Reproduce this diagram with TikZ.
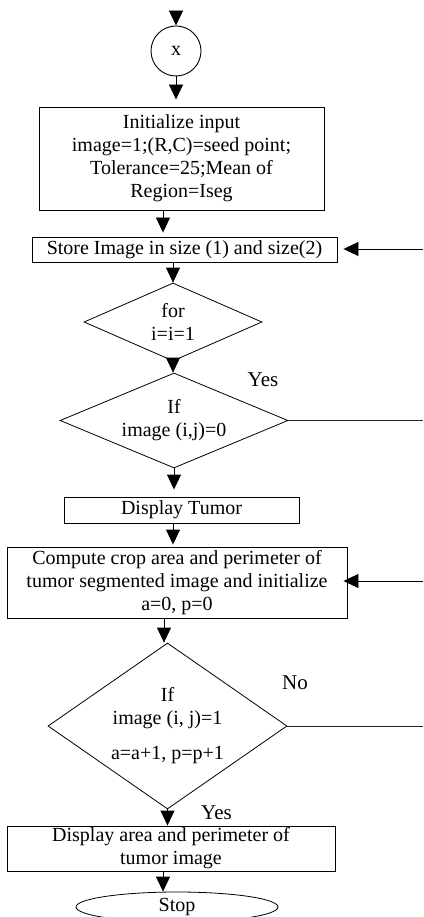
\documentclass[tikz,border=0pt]{standalone}
\usepackage{fontspec}
\setmainfont{Liberation Serif}
\usetikzlibrary{shapes.geometric,arrows.meta}
\begin{document}
\begin{tikzpicture}[x=1pt,y=-1pt,
  every node/.style={font=\fontsize{20}{23}\selectfont, inner sep=0pt, align=center},
  boxnode/.style={draw=black, line width=0.9pt, rectangle},
  decnode/.style={draw=black, line width=0.8pt, diamond},
  arr/.style={draw=black, line width=0.9pt, -{Triangle[width=14pt,length=15pt]}},
  plainline/.style={draw=black!85, line width=0.8pt},
  lbl/.style={font=\fontsize{21}{24}\selectfont}]
\useasboundingbox (0,0) rectangle (423,917);

\node[draw=black, line width=0.9pt, circle, minimum size=50pt] (x) at (176,51) {x};
\node[boxnode, minimum width=285pt, minimum height=103pt] (init) at (181.5,158.5)
  {Initialize input\\image=1;(R,C)=seed point;\\Tolerance=25;Mean of\\Region=Iseg};
\node[boxnode, minimum width=305pt, minimum height=25pt] (store) at (184.5,249.5)
  {Store Image in size (1) and size(2)};
\node[decnode, shape aspect=2.28, minimum width=178pt, minimum height=78pt] (for) at (173,322)
  {for\\i=i=1};
\node[decnode, shape aspect=2.4, minimum width=228pt, minimum height=95pt] (if1) at (174,420.5)
  {If\\image (i,j)=0};
\node[boxnode, minimum width=235pt, minimum height=26pt] (tumor) at (181.5,510)
  {Display Tumor};
\node[boxnode, minimum width=340pt, minimum height=71pt] (compute) at (177,582.5)
  {Compute crop area and perimeter of\\tumor segmented image and initialize\\a=0, p=0};
\node[decnode, shape aspect=1.44, minimum width=239pt, minimum height=166pt] (if2) at (167.5,726)
  {If\\image (i, j)=1\\[12pt]a=a+1, p=p+1};
\node[boxnode, minimum width=328pt, minimum height=45pt] (area) at (171,848.5)
  {Display area and perimeter of\\tumor image};
\node[draw=black, line width=0.8pt, ellipse, minimum width=202pt, minimum height=30pt] (stop) at (177,907)
  {Stop};

\node[lbl] (yes1) at (263,380) {Yes};
\node[lbl] (no2) at (295,683) {No};
\node[lbl] (yes2) at (216.5,813) {Yes};

\coordinate (topin) at (176,11);
\coordinate (r1) at (423,249);
\coordinate (r2) at (423,420.5);
\coordinate (r3) at (423,581);
\coordinate (r4) at (423,726);

% vertical flow
\draw[arr] (topin) -- (x.north);
\draw[arr, shorten >=7pt] (x.south) -- (init.north -| x.south);
\draw[arr, shorten >=4pt] (init.south -| 163,0) -- (store.north -| 163,0);
\draw[arr] (store.south -| for.north) -- (for.north);
\draw[arr] (for.south) -- (if1.north -| for.south);
\draw[arr, shorten >=7pt] (if1.south) -- (tumor.north -| if1.south);
\draw[arr, shorten >=2pt] (tumor.south -| 173,0) -- (compute.north -| 173,0);
\draw[arr] (compute.south -| 164,0) -- (if2.north -| 164,0);
\draw[arr] (if2.south) -- (area.north -| if2.south);
\draw[arr] (area.south -| 163,0) -- (stop.north -| 163,0);

% right-side lines
\draw[arr, shorten >=6pt] (r1) -- (store.east |- r1);
\draw[plainline] (if1.east) -- (r2);
\draw[arr, shorten >=-4pt] (r3) -- (compute.east |- r3);
\draw[plainline] (if2.east) -- (r4);
\end{tikzpicture}
\end{document}
